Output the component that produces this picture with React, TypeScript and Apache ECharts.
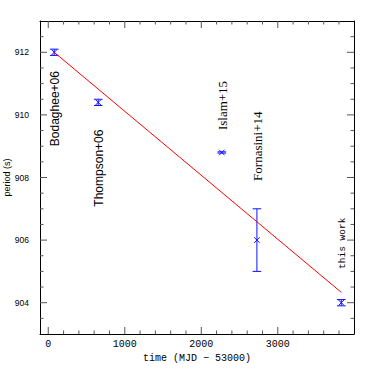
import React, { useEffect, useRef } from "react";
import * as echarts from "echarts";

// ---- data ----
const refs = ["Bodaghee+06", "Thompson+06", "Islam+15", "Fornasini+14", "this work"];
const times = [78, 653, 2268, 2727, 3830];
const periods = [912.0, 910.4, 908.8, 906.0, 904.0];
const errors = [0.1, 0.1, 0.02, 1.0, 0.1];
const labelPeriods = [910.2, 908.3, 910.3, 909.0, 905.9];
const fitTimes = [78, 3830];
const fitPeriods = [912.0, 904.33];
const xTicks = [0, 1000, 2000, 3000];
const xMinorTicks = [200, 400, 600, 800, 1200, 1400, 1600, 1800, 2200, 2400, 2600, 2800, 3200, 3400, 3600, 3800];
const yTicks = [904, 906, 908, 910, 912];
const yMinorTicks = [903.5, 904.5, 905, 905.5, 906.5, 907, 907.5, 908.5, 909, 909.5, 910.5, 911, 911.5, 912.5];

const X_MIN = -108;
const X_MAX = 3996;
const Y_MIN = 903;
const Y_MAX = 913;

const labelFonts = [
  "12px 'Liberation Sans'",
  "12px 'Liberation Sans'",
  "13px 'Liberation Serif'",
  "13px 'Liberation Serif'",
  "9.5px 'Liberation Mono'",
];

const MAJOR_LEN = 7;
const MINOR_LEN = 3.5;

export default function App() {
  const ref = useRef<HTMLDivElement>(null);
  useEffect(() => {
    if (!ref.current) return;
    const chart = echarts.init(ref.current, null, { renderer: "svg" });
    const tickStyle = { stroke: "#555", lineWidth: 1 };
    const frameLine = { show: true, onZero: false, lineStyle: { color: "#000", width: 1 } };

    const errData = times.map((t, i) => [t, periods[i], errors[i]]);
    const labelData = times.map((t, i) => [t, labelPeriods[i], i]);
    const xTickData = [
      ...xTicks.map((v) => [v, 1]),
      ...xMinorTicks.map((v) => [v, 0]),
    ];
    const yTickData = [
      ...yTicks.map((v) => [X_MIN, v, 1]),
      ...yMinorTicks.map((v) => [X_MIN, v, 0]),
    ];

    chart.setOption({
      animation: false,
      backgroundColor: "#fff",
      grid: { left: 40, right: 20, top: 21, bottom: 40, containLabel: false, outerBoundsMode: "none" },
      xAxis: [
        {
          type: "value",
          min: X_MIN,
          max: X_MAX,
          position: "bottom",
          splitLine: { show: false },
          axisLine: frameLine,
          axisTick: { show: false },
          axisLabel: {
            customValues: xTicks,
            formatter: (v: number) => String(v),
            fontFamily: "Liberation Mono",
            fontSize: 10,
            color: "#000",
            margin: 5,
          },
          name: "time (MJD \u2212 53000)",
          nameLocation: "middle",
          nameGap: 19,
          nameMoveOverlap: false,
          nameTextStyle: { fontFamily: "Liberation Mono", fontSize: 10, color: "#000" },
        },
        {
          type: "value",
          min: X_MIN,
          max: X_MAX,
          position: "top",
          splitLine: { show: false },
          axisLine: frameLine,
          axisTick: { show: false },
          axisLabel: { show: false },
        },
      ],
      yAxis: [
        {
          type: "value",
          min: Y_MIN,
          max: Y_MAX,
          position: "left",
          splitLine: { show: false },
          axisLine: frameLine,
          axisTick: { show: false },
          axisLabel: {
            customValues: yTicks,
            formatter: (v: number) => String(v),
            fontFamily: "Liberation Sans",
            fontSize: 8.5,
            color: "#000",
            margin: 11,
          },
          name: "period (s)",
          nameLocation: "middle",
          nameGap: 29,
          nameMoveOverlap: false,
          nameTextStyle: { fontFamily: "Liberation Sans", fontSize: 9, color: "#000" },
        },
        {
          type: "value",
          min: Y_MIN,
          max: Y_MAX,
          position: "right",
          splitLine: { show: false },
          axisLine: frameLine,
          axisTick: { show: false },
          axisLabel: { show: false },
        },
      ],
      series: [
        {
          type: "custom",
          xAxisIndex: 0,
          yAxisIndex: 0,
          silent: true,
          data: xTickData,
          renderItem: (params: any, api: any) => {
            const v = api.value(0);
            const len = api.value(1) ? MAJOR_LEN : MINOR_LEN;
            const b = api.coord([v, Y_MIN]);
            const t = api.coord([v, Y_MAX]);
            return {
              type: "group",
              children: [
                { type: "line", shape: { x1: b[0], y1: b[1], x2: b[0], y2: b[1] - len }, style: tickStyle },
                { type: "line", shape: { x1: t[0], y1: t[1], x2: t[0], y2: t[1] + len }, style: tickStyle },
              ],
            };
          },
        },
        {
          type: "custom",
          xAxisIndex: 0,
          yAxisIndex: 0,
          silent: true,
          data: yTickData,
          renderItem: (params: any, api: any) => {
            const v = api.value(1);
            const len = api.value(2) ? MAJOR_LEN : MINOR_LEN;
            const l = api.coord([X_MIN, v]);
            const r = api.coord([X_MAX, v]);
            return {
              type: "group",
              children: [
                { type: "line", shape: { x1: l[0], y1: l[1], x2: l[0] + len, y2: l[1] }, style: tickStyle },
                { type: "line", shape: { x1: r[0], y1: r[1], x2: r[0] - len, y2: r[1] }, style: tickStyle },
              ],
            };
          },
        },
        {
          type: "line",
          xAxisIndex: 0,
          yAxisIndex: 0,
          data: fitTimes.map((t, i) => [t, fitPeriods[i]]),
          symbol: "none",
          lineStyle: { color: "#ff0000", width: 1 },
          silent: true,
        },
        {
          type: "custom",
          xAxisIndex: 0,
          yAxisIndex: 0,
          data: errData,
          renderItem: (params: any, api: any) => {
            const x = api.value(0);
            const y = api.value(1);
            const e = api.value(2);
            const c = api.coord([x, y]);
            const lo = api.coord([x, y - e]);
            const hi = api.coord([x, y + e]);
            const cw = 4.3;
            const cs = 2.8;
            const style = { stroke: "#1010ff", lineWidth: 1, fill: null };
            return {
              type: "group",
              children: [
                { type: "line", shape: { x1: c[0], y1: lo[1], x2: c[0], y2: hi[1] }, style },
                { type: "line", shape: { x1: c[0] - cw, y1: lo[1], x2: c[0] + cw, y2: lo[1] }, style },
                { type: "line", shape: { x1: c[0] - cw, y1: hi[1], x2: c[0] + cw, y2: hi[1] }, style },
                { type: "line", shape: { x1: c[0] - cs, y1: c[1] - cs, x2: c[0] + cs, y2: c[1] + cs }, style },
                { type: "line", shape: { x1: c[0] - cs, y1: c[1] + cs, x2: c[0] + cs, y2: c[1] - cs }, style },
              ],
            };
          },
        },
        {
          type: "custom",
          xAxisIndex: 0,
          yAxisIndex: 0,
          data: labelData,
          renderItem: (params: any, api: any) => {
            const i = api.value(2);
            const p = api.coord([api.value(0), api.value(1)]);
            return {
              type: "text",
              x: p[0] + 1,
              y: p[1],
              rotation: Math.PI / 2,
              style: {
                text: refs[i],
                font: labelFonts[i],
                fill: "#000",
                align: "center",
                verticalAlign: "middle",
              },
            };
          },
        },
      ],
    });
    return () => chart.dispose();
  }, []);
  return <div ref={ref} style={{ position: "absolute", left: 0, top: 0, width: 374, height: 374 }} />;
}
